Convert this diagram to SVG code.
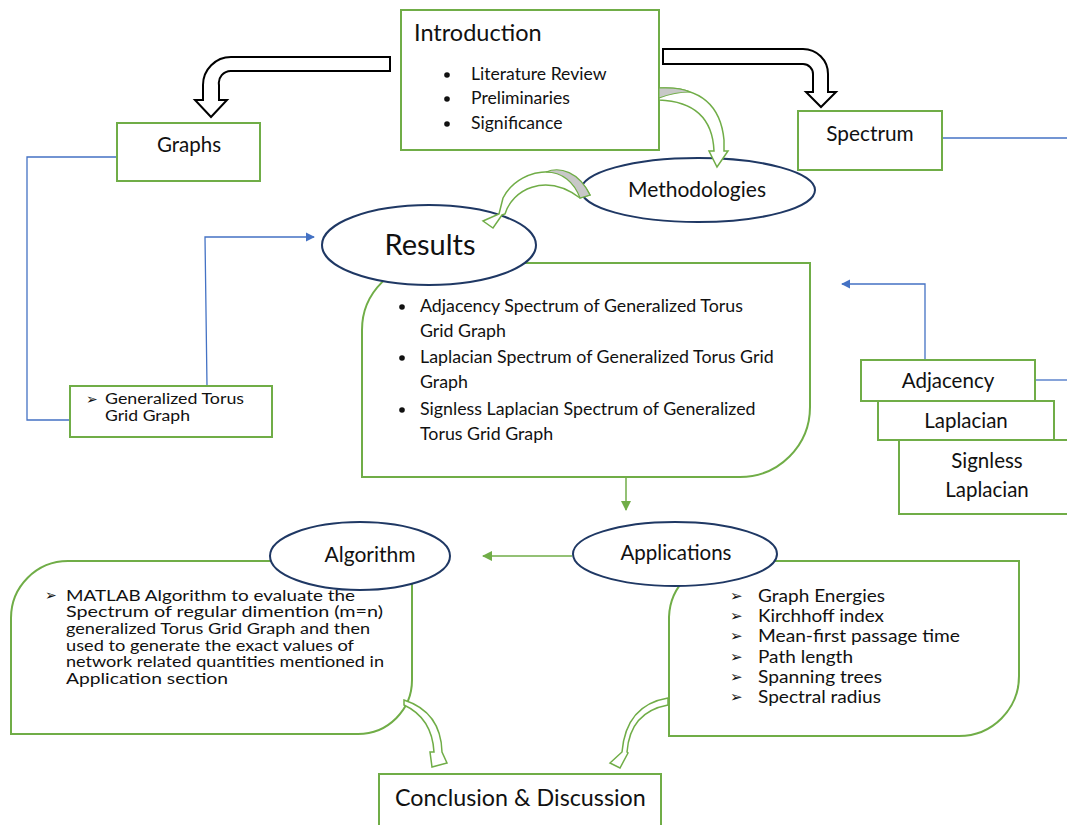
<svg xmlns="http://www.w3.org/2000/svg" width="1067" height="825" viewBox="0 0 1067 825">
<defs>
<style>
.t{font-family:Lato,"Liberation Sans",sans-serif;fill:#111;}
.box{fill:#fff;stroke:#70AD47;stroke-width:2;}
.ell{fill:#fff;stroke:#1F3864;stroke-width:2;}
.blue{fill:none;stroke:#4472C4;stroke-width:1.3;}
.grn{fill:none;stroke:#70AD47;stroke-width:1.5;}
.blk{fill:#fff;stroke:#000;stroke-width:2;stroke-linejoin:miter;}
.carrow{fill:#fff;stroke:#70AD47;stroke-width:1.5;stroke-linejoin:miter;}
.gray{fill:#c8c8c8;stroke:#70AD47;stroke-width:1.2;}
</style>
<marker id="ab" viewBox="0 0 10 10" refX="9" refY="5" markerWidth="7" markerHeight="7" orient="auto"><path d="M0,0 L10,5 L0,10 Z" fill="#4472C4"/></marker>
<marker id="ag" viewBox="0 0 10 10" refX="9" refY="5" markerWidth="7" markerHeight="7" orient="auto"><path d="M0,0 L10,5 L0,10 Z" fill="#70AD47"/></marker>
</defs>
<rect width="1067" height="825" fill="#fff"/>

<g id="connectors">
<path class="blk" d="M390,57 L231,57 A28,28 0 0 0 203,85 L203,100 L195,100 L211,117 L227,100 L219,100 L219,85 A12,12 0 0 1 231,71 L390,71 Z"/>
<path class="blk" d="M663,49 L803,49 A25,25 0 0 1 828,74 L828,92 L836,92 L821,107 L806,92 L813,92 L813,74 A10,10 0 0 0 803,64 L663,64 Z"/>
<path class="blue" d="M117,157 L27,157 L27,420 L70,420"/>
<path class="blue" d="M207,386 L205,237 L314,237" marker-end="url(#ab)"/>
<path class="blue" d="M942,138 L1067,138"/>
<path class="blue" d="M925,360 L925,284 L842,284" marker-end="url(#ab)"/>
<path class="blue" d="M1035,380 L1067,380"/>
<path class="grn" d="M626,477 L626,510" marker-end="url(#ag)"/>
<path class="grn" d="M572,556 L483,556" marker-end="url(#ag)"/>
</g>

<g id="introduction">
<rect class="box" x="401" y="10" width="258" height="140"/>
<text class="t" x="414" y="41" font-size="23.5">Introduction</text>
<circle cx="447" cy="75" r="2.8" fill="#111"/>
<circle cx="447" cy="99" r="2.8" fill="#111"/>
<circle cx="447" cy="124" r="2.8" fill="#111"/>
<text class="t" x="471" y="80" font-size="17.6">Literature Review</text>
<text class="t" x="471" y="104" font-size="17.6">Preliminaries</text>
<text class="t" x="471" y="129" font-size="17.6">Significance</text>
</g>

<g id="graphs">
<rect class="box" x="117" y="123" width="143" height="58"/>
<text class="t" x="189" y="152" font-size="20.5" text-anchor="middle">Graphs</text>
</g>

<g id="spectrum">
<rect class="box" x="798" y="111" width="144" height="59"/>
<text class="t" x="870" y="141" font-size="20.8" text-anchor="middle">Spectrum</text>
</g>

<g id="torus-grid">
<rect class="box" x="70" y="386" width="202" height="51"/>
<text class="t" x="86" y="404" font-size="14">➢</text>
<text class="t" x="105" y="404" font-size="15.8" textLength="139" lengthAdjust="spacingAndGlyphs">Generalized Torus</text>
<text class="t" x="105" y="421" font-size="15.8" textLength="85" lengthAdjust="spacingAndGlyphs">Grid Graph</text>
</g>

<g id="results">
<path class="box" d="M362,477 L362,330 A67,67 0 0 1 429,263 L810,263 L810,407 A70,70 0 0 1 740,477 Z"/>
<circle cx="402" cy="307" r="2.8" fill="#111"/>
<circle cx="402" cy="358" r="2.8" fill="#111"/>
<circle cx="402" cy="410" r="2.8" fill="#111"/>
<g class="t" font-size="17.8">
<text x="420" y="312">Adjacency Spectrum of Generalized Torus</text>
<text x="420" y="337">Grid Graph</text>
<text x="420" y="363">Laplacian Spectrum of Generalized Torus Grid</text>
<text x="420" y="388">Graph</text>
<text x="420" y="415">Signless Laplacian Spectrum of Generalized</text>
<text x="420" y="440">Torus Grid Graph</text>
</g>
<ellipse class="ell" cx="429" cy="245" rx="107" ry="40"/>
<text class="t" x="430" y="255" font-size="29" text-anchor="middle">Results</text>
</g>

<g id="methodologies">
<ellipse class="ell" cx="698" cy="190" rx="117" ry="32"/>
<text class="t" x="697" y="197" font-size="21" text-anchor="middle">Methodologies</text>
<path class="carrow" d="M659,88 Q719,86 724,140 L724,151 L728,151 L717,167 L709,151 L714,151 Q712,102 659,100 Z"/>
<path class="gray" d="M659,88 Q680,87 690,92 Q675,92 659,98 Z"/>
<path class="carrow" d="M590,195 C576,165 522,162 503,198 L499,214 L483,221 L493,228 L502,215 L505,214 C512,190 545,172 580,198 Z"/>
<path class="gray" d="M590,195 C579,172 560,166 546,172 C562,172 574,182 580,198 Z"/>
</g>

<g id="adjacency">
<rect class="box" x="861" y="360" width="174" height="41"/>
<text class="t" x="948" y="388" font-size="20.5" text-anchor="middle">Adjacency</text>
</g>
<g id="laplacian">
<rect class="box" x="878" y="401" width="176" height="39"/>
<text class="t" x="966" y="428" font-size="20.5" text-anchor="middle">Laplacian</text>
</g>
<g id="signless-laplacian">
<rect class="box" x="899" y="440" width="180" height="74"/>
<text class="t" x="987" y="468" font-size="20.5" text-anchor="middle">Signless</text>
<text class="t" x="987" y="497" font-size="20.5" text-anchor="middle">Laplacian</text>
</g>

<g id="algorithm">
<path class="box" d="M11,734 L11,618 A57,57 0 0 1 68,561 L412,561 L412,680 A54,54 0 0 1 358,734 Z"/>
<text class="t" x="45" y="600" font-size="14">➢</text>
<g class="t" font-size="15.5">
<text x="66" y="600.5" textLength="289" lengthAdjust="spacingAndGlyphs">MATLAB Algorithm to evaluate the</text>
<text x="66" y="617.2" textLength="317" lengthAdjust="spacingAndGlyphs">Spectrum of regular dimention (m=n)</text>
<text x="66" y="634" textLength="304" lengthAdjust="spacingAndGlyphs">generalized Torus Grid Graph and then</text>
<text x="66" y="650.7" textLength="288" lengthAdjust="spacingAndGlyphs">used to generate the exact values of</text>
<text x="66" y="667.4" textLength="318" lengthAdjust="spacingAndGlyphs">network related quantities mentioned in</text>
<text x="66" y="684.2" textLength="162" lengthAdjust="spacingAndGlyphs">Application section</text>
</g>
<ellipse class="ell" cx="360" cy="556" rx="90" ry="34"/>
<text class="t" x="370" y="562" font-size="21" text-anchor="middle">Algorithm</text>
</g>

<g id="applications">
<path class="box" d="M669,736 L669,617 A58,58 0 0 1 727,561 L1019,561 L1019,676 A60,60 0 0 1 959,736 Z"/>
<g class="t" font-size="15">
<text x="730" y="601">➢</text>
<text x="730" y="621">➢</text>
<text x="730" y="641">➢</text>
<text x="730" y="662">➢</text>
<text x="730" y="682">➢</text>
<text x="730" y="702">➢</text>
</g>
<g class="t" font-size="18.2">
<text x="758" y="602" textLength="127" lengthAdjust="spacingAndGlyphs">Graph Energies</text>
<text x="758" y="622" textLength="126" lengthAdjust="spacingAndGlyphs">Kirchhoff index</text>
<text x="758" y="642" textLength="202" lengthAdjust="spacingAndGlyphs">Mean-first passage time</text>
<text x="758" y="663" textLength="95" lengthAdjust="spacingAndGlyphs">Path length</text>
<text x="758" y="683" textLength="124" lengthAdjust="spacingAndGlyphs">Spanning trees</text>
<text x="758" y="703" textLength="123" lengthAdjust="spacingAndGlyphs">Spectral radius</text>
</g>
<ellipse class="ell" cx="675" cy="554" rx="102" ry="32"/>
<text class="t" x="676" y="560" font-size="20.5" text-anchor="middle">Applications</text>
</g>

<g id="conclusion">
<rect class="box" x="379" y="774" width="282" height="60"/>
<text class="t" x="395" y="806" font-size="23.3">Conclusion &amp; Discussion</text>
<path class="carrow" d="M404,700 Q441,712 442,752 L447,763 L432,767 L430,752 L434,752 Q432,718 404,705 Z"/>
<path class="carrow" d="M668,698 Q626,705 622,752 L610,763 L620,768 L628,753 L627,752 Q630,712 668,705 Z"/>
</g>
</svg>
